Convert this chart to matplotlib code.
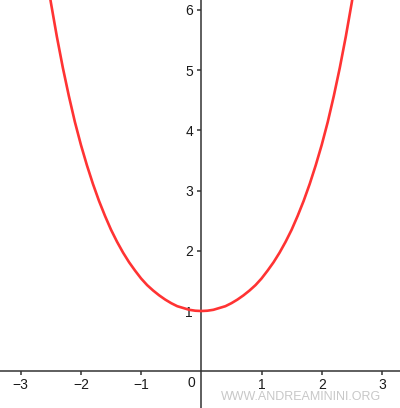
import matplotlib
matplotlib.use("Agg")
import matplotlib.pyplot as plt

# curve points (x, y)
curve_x = [-2.6, -2.5, -2.4, -2.3, -2.2, -2.1, -2.0, -1.9, -1.8, -1.7, -1.6,
           -1.5, -1.4, -1.3, -1.2, -1.1, -1.0, -0.9, -0.8, -0.7, -0.6, -0.5,
           -0.4, -0.3, -0.2, -0.1, 0.0, 0.1, 0.2, 0.3, 0.4, 0.5, 0.6, 0.7,
           0.8, 0.9, 1.0, 1.1, 1.2, 1.3, 1.4, 1.5, 1.6, 1.7, 1.8, 1.9, 2.0,
           2.1, 2.2, 2.3, 2.4, 2.5, 2.6]
curve_y = [6.77, 6.13, 5.56, 5.04, 4.57, 4.14, 3.76, 3.42, 3.11, 2.83, 2.58,
           2.35, 2.15, 1.97, 1.81, 1.67, 1.54, 1.43, 1.34, 1.26, 1.19, 1.13,
           1.08, 1.05, 1.02, 1.005, 1.0, 1.005, 1.02, 1.05, 1.08, 1.13, 1.19,
           1.26, 1.34, 1.43, 1.54, 1.67, 1.81, 1.97, 2.15, 2.35, 2.58, 2.83,
           3.11, 3.42, 3.76, 4.14, 4.57, 5.04, 5.56, 6.13, 6.77]

x_ticks = [-3, -2, -1, 1, 2, 3]
x_labels = ["\u22123", "\u22122", "\u22121", "1", "2", "3"]
y_ticks = [1, 2, 3, 4, 5, 6]
watermark = "WWW.ANDREAMININI.ORG"

plt.rcParams['font.family'] = ['Liberation Sans', 'DejaVu Sans']

fig = plt.figure(figsize=(4.0, 4.08), dpi=100)
ax = fig.add_axes([0, 0, 1, 1])
ax.set_xlim(-3.344, 3.300)
ax.set_ylim(-0.611, 6.166)

ax.plot(curve_x, curve_y, color="#ff3333", lw=1.9, solid_capstyle="round",
        solid_joinstyle="round", zorder=3)

axis_col = "#333333"
for side in ["top", "right"]:
    ax.spines[side].set_visible(False)
ax.spines["left"].set_position(("data", 0))
ax.spines["bottom"].set_position(("data", 0))
ax.spines["left"].set_color(axis_col)
ax.spines["bottom"].set_color(axis_col)
ax.spines["left"].set_linewidth(1.1)
ax.spines["bottom"].set_linewidth(1.1)

ax.set_xticks(x_ticks)
ax.set_xticklabels(x_labels)
ax.set_yticks(y_ticks)
ax.tick_params(axis="both", direction="out", length=3, width=1.1,
               color=axis_col, labelsize=10, labelcolor="#1a1a1a")
ax.tick_params(axis="x", pad=2)
ax.tick_params(axis="y", pad=3)

ax.text(-0.17, -0.08, "0", ha="center", va="top", fontsize=10, color="#1a1a1a")

fig.text(0.953, 0.012, watermark, ha="right", va="bottom", fontsize=9,
         color="#c8c8c8")

fig.savefig("out.png", dpi=100)
